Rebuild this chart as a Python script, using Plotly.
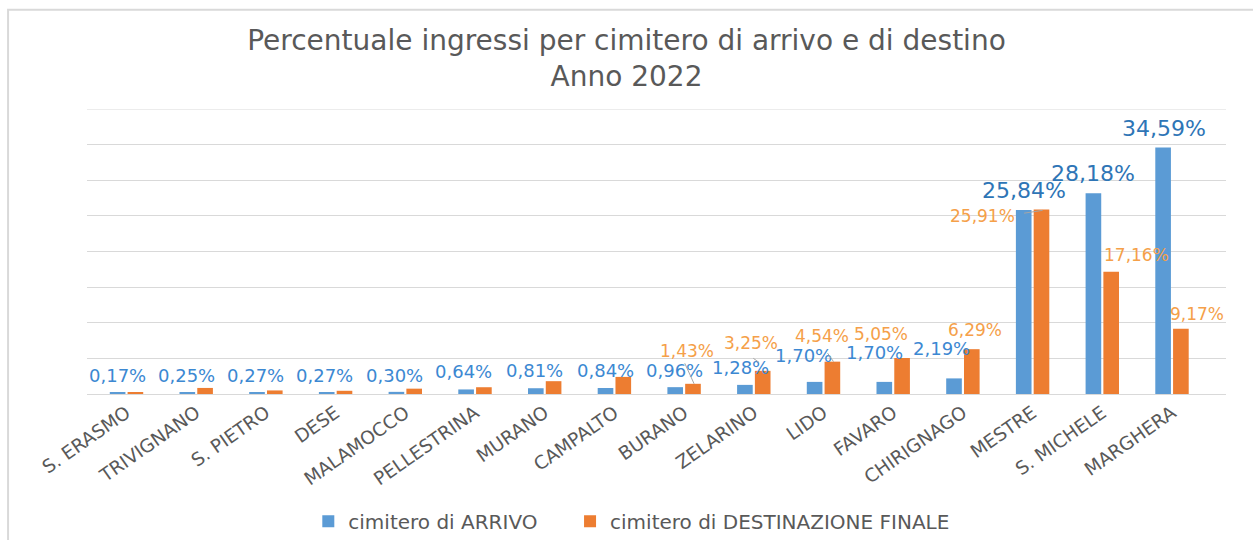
import plotly.graph_objects as go

categories = ["S. ERASMO", "TRIVIGNANO", "S. PIETRO", "DESE", "MALAMOCCO", "PELLESTRINA",
              "MURANO", "CAMPALTO", "BURANO", "ZELARINO", "LIDO", "FAVARO", "CHIRIGNAGO",
              "MESTRE", "S. MICHELE", "MARGHERA"]
arrivo = [0.17, 0.25, 0.27, 0.27, 0.30, 0.64, 0.81, 0.84, 0.96, 1.28, 1.70, 1.70, 2.19,
          25.84, 28.18, 34.59]
destinazione = [0.20, 0.85, 0.50, 0.45, 0.75, 0.95, 1.80, 2.40, 1.43, 3.25, 4.54, 5.05, 6.29,
                25.91, 17.16, 9.17]
# which destination values carry a visible label
dest_labelled = [False] * 8 + [True] * 8

series_names = ["cimitero di ARRIVO", "cimitero di DESTINAZIONE FINALE"]
title_text = "Percentuale ingressi per cimitero di arrivo e di destino<br>Anno 2022"

# label placement (pixel offsets, style only)
blue_dx = [-9, -10, -10.5, -11, -11, -12, -10, -9, -10, -13.5, -20, -19, -21, -8.5, -9, -8]
blue_dy = [17.3, 16.7, 16.6, 16.6, 16.4, 17.9, 17.7, 17.5, 16.6, 17.7, 26, 29, 30, 19.4, 19.4, 18.6]
blue_size = [18] * 13 + [22, 22, 22]
orange_dx = [0] * 8 + [3, -2.5, -2, -12, 12, -50, 34, 25]
orange_dy = [0] * 8 + [33.3, 27.5, 26, 24.5, 19, -6.4, 17, 15]

BLUE = "#5B9BD5"
ORANGE = "#ED7D31"
FONT = "DejaVu Sans"
GREY = "#595959"

fig = go.Figure()
fig.add_trace(go.Bar(x=categories, y=arrivo, name=series_names[0], marker_color=BLUE,
                     marker_line_width=0, legend="legend"))
fig.add_trace(go.Bar(x=categories, y=destinazione, name=series_names[1], marker_color=ORANGE,
                     marker_line_width=0, legend="legend2"))

def fmt(v):
    return f"{v:.2f}".replace(".", ",") + "%"

annotations = []
for i, c in enumerate(categories):
    annotations.append(dict(x=c, y=arrivo[i], xref="x", yref="y", text=fmt(arrivo[i]),
                            showarrow=False, xshift=blue_dx[i], yshift=blue_dy[i],
                            xanchor="center", yanchor="middle",
                            font=dict(family=FONT, size=blue_size[i],
                                      color="#2E75B6" if blue_size[i] > 18 else "#3C88D2")))
    if dest_labelled[i]:
        annotations.append(dict(x=c, y=destinazione[i], xref="x", yref="y",
                                text=fmt(destinazione[i]), showarrow=False,
                                xshift=orange_dx[i], yshift=orange_dy[i],
                                xanchor="center", yanchor="middle",
                                font=dict(family=FONT, size=17, color="#F5A049")))

# leader lines (index, tip xshift, tip yshift, ax, ay)
leaders = [(8, 10, 0, -10, -22), (9, 5, 8.6, -7, -5), (10, 10, 0, -7, -10), (13, 10, -1, -20, 3)]
for i, xs, ys, ax, ay in leaders:
    annotations.append(dict(x=categories[i], y=destinazione[i], xref="x", yref="y", text="",
                            showarrow=True, arrowhead=0, arrowwidth=1, arrowcolor="#A6A6A6",
                            xshift=xs, yshift=ys, ax=ax, ay=ay, standoff=0, startstandoff=0))

legend_style = dict(orientation="h", xanchor="left", y=-0.4466, yanchor="middle",
                    font=dict(family=FONT, size=20, color=GREY), itemwidth=30,
                    bgcolor="rgba(0,0,0,0)")

fig.update_layout(
    width=1253, height=540,
    margin=dict(l=86.5, r=26.5, t=109, b=145.5, autoexpand=False),
    paper_bgcolor="white", plot_bgcolor="white",
    barmode="group", bargap=0.49, bargroupgap=0.12,
    title=dict(text=title_text, x=0.5, xanchor="center", xref="container",
               y=0.9083, yanchor="middle", yref="container",
               font=dict(family=FONT, size=28, color=GREY)),
    font=dict(family=FONT, color=GREY),
    showlegend=True,
    legend=dict(x=0.1943, **legend_style),
    legend2=dict(x=0.4241, **legend_style),
    annotations=annotations,
    shapes=[dict(type="rect", xref="paper", yref="paper", x0=-0.0693, x1=1.03,
                 y0=-0.53, y1=1.3485, line=dict(color="#D9D9D9", width=2),
                 fillcolor="rgba(0,0,0,0)", layer="below"),
            dict(type="line", xref="paper", yref="y", x0=0, x1=1, y0=40, y1=40,
                 line=dict(color="#D9D9D9", width=1), layer="below")],
)
fig.update_xaxes(tickangle=-35, tickfont=dict(family=FONT, size=18.5, color=GREY),
                 showgrid=False, showline=True, linecolor="#D9D9D9", linewidth=1,
                 ticks="", automargin=False)
fig.update_yaxes(range=[0, 40], dtick=5, showticklabels=False, showgrid=True,
                 gridcolor="#D9D9D9", gridwidth=1, zeroline=False, showline=False,
                 automargin=False)

fig.write_html("out.html", config={"displayModeBar": False},
               post_script="document.body.style.margin='0';")
